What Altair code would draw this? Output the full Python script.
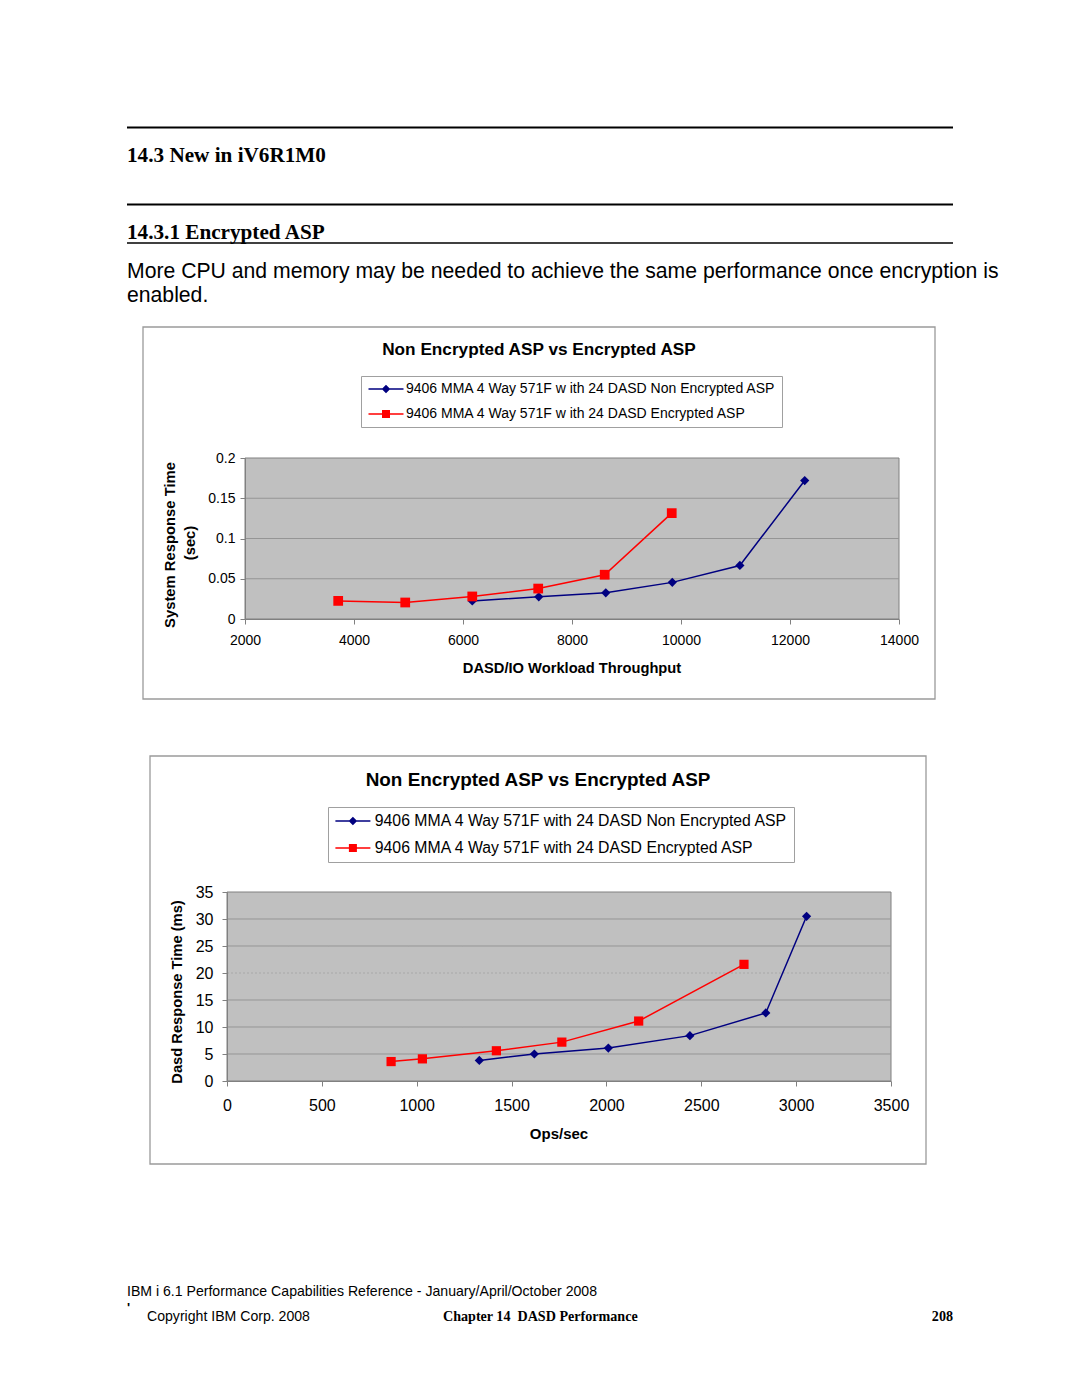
import altair as alt
import pandas as pd

# ---------------- data ----------------
# Chart 1: DASD/IO workload throughput vs system response time (sec)
ne1_x = [6170, 7390, 8620, 9840, 11080, 12270]
ne1_y = [0.0225, 0.0275, 0.0325, 0.0455, 0.0665, 0.172]
e1_x = [3710, 4940, 6170, 7380, 8600, 9830]
e1_y = [0.0225, 0.0205, 0.028, 0.0378, 0.055, 0.1315]

# Chart 2: Ops/sec vs DASD response time (ms)
ne2_x = [1330, 1620, 2010, 2440, 2840, 3055]
ne2_y = [3.8, 5.0, 6.1, 8.4, 12.6, 30.5]
e2_x = [865, 1030, 1420, 1765, 2170, 2725]
e2_y = [3.6, 4.1, 5.6, 7.2, 11.1, 21.6]

names1 = ["9406 MMA 4 Way 571F w ith 24 DASD Non Encrypted ASP",
          "9406 MMA 4 Way 571F w ith 24 DASD Encrypted ASP"]
names2 = ["9406 MMA 4 Way 571F with 24 DASD Non Encrypted ASP",
          "9406 MMA 4 Way 571F with 24 DASD Encrypted ASP"]

x1_ticks = [2000, 4000, 6000, 8000, 10000, 12000, 14000]
y1_ticks = [0, 0.05, 0.1, 0.15, 0.2]
x2_ticks = [0, 500, 1000, 1500, 2000, 2500, 3000, 3500]
y2_ticks = [0, 5, 10, 15, 20, 25, 30, 35]

title1 = "Non Encrypted ASP vs Encrypted ASP"
title2 = "Non Encrypted ASP vs Encrypted ASP"
xtitle1 = "DASD/IO Workload Throughput"
ytitle1 = ["System Response Time", "(sec)"]
xtitle2 = "Ops/sec"
ytitle2 = "Dasd Response Time (ms)"

# ---------------- styling ----------------
W, H = 1064, 1381
NAVY = "#000080"
RED = "#FF0000"
SANS = "Liberation Sans"
SERIF = "Liberation Serif"
GRAY = "#808080"
GRID = "#959595"
PLOT_BG = "#C0C0C0"

DIA = "M-3.5,-0.15H3.5V0.15H-3.5ZM0,-0.85L0.85,0L0,0.85L-0.85,0Z"
SQ = "M-3.5,-0.15H3.5V0.15H-3.5ZM-0.8,-0.8H0.8V0.8H-0.8Z"

one = pd.DataFrame({"k": [0]})


def P(v):
    return v - 8


def txt(t, x, y, size, weight="normal", font=SANS, align="left",
        baseline="alphabetic", angle=0):
    kw = dict(text=t, font=font, fontSize=size, fontWeight=weight,
              align=align, baseline=baseline, color="black")
    if angle:
        kw["angle"] = angle
    return alt.Chart(one).mark_text(**kw).encode(
        x=alt.value(P(x)), y=alt.value(P(y)))


def hrule(x1, x2, y, w):
    return alt.Chart(one).mark_rule(color="black", strokeWidth=w).encode(
        x=alt.value(P(x1)), x2=alt.value(P(x2)), y=alt.value(P(y)))


def frame(x1, y1, x2, y2):
    return alt.Chart(one).mark_rect(fill="white", stroke="#9a9a9a",
                                    strokeWidth=1.3).encode(
        x=alt.value(P(x1)), x2=alt.value(P(x2)),
        y=alt.value(P(y1)), y2=alt.value(P(y2)))


def build(ne_x, ne_y, e_x, e_y, names, xdom, ydom, xpix, ypix,
          xticks, yticks, xfmt, yfmt, lab_size, xpad, ypad,
          leg_xy, leg_size, leg_lab_off, leg_sym_off, leg_row_pad,
          dia_size, sq_size, dotted_grid=None):
    xr = [P(xpix[0]), P(xpix[1])]
    yr = [P(ypix[0]), P(ypix[1])]
    sx = alt.Scale(domain=xdom, range=xr, nice=False, zero=False)
    sy = alt.Scale(domain=ydom, range=yr, nice=False, zero=False)
    ax = alt.Axis(orient="bottom", offset=yr[0] - H, values=xticks,
                  format=xfmt, title=None, grid=False, labelFont=SANS,
                  labelFontSize=lab_size, labelColor="black",
                  labelPadding=xpad, tickSize=5, tickColor=GRAY,
                  domainColor=GRAY, labelFlush=False, labelOverlap=False,
                  zindex=2)
    ay = alt.Axis(orient="left", offset=-xr[0], values=yticks,
                  format=yfmt, title=None, grid=False, labelFont=SANS,
                  labelFontSize=lab_size, labelColor="black",
                  labelPadding=ypad, tickSize=5, tickColor=GRAY,
                  domainColor=GRAY, labelFlush=False, labelOverlap=False,
                  zindex=2)

    df_ne = pd.DataFrame({"x": ne_x, "y": ne_y, "s": names[0]})
    df_e = pd.DataFrame({"x": e_x, "y": e_y, "s": names[1]})
    df_all = pd.concat([df_ne, df_e], ignore_index=True)

    X = alt.X("x:Q", scale=sx, axis=ax)
    Y = alt.Y("y:Q", scale=sy, axis=ay)

    bg = alt.Chart(one).mark_rect(fill=PLOT_BG, stroke=GRAY,
                                  strokeWidth=1).encode(
        x=alt.XDatum(xdom[0], type="quantitative", scale=sx, axis=ax),
        x2=alt.X2Datum(xdom[1]),
        y=alt.YDatum(ydom[0], type="quantitative", scale=sy, axis=ay),
        y2=alt.Y2Datum(ydom[1]))

    genc = dict(
        y=alt.Y("g:Q", scale=sy, axis=ay),
        x=alt.XDatum(xdom[0], type="quantitative", scale=sx, axis=ax),
        x2=alt.X2Datum(xdom[1]))
    if dotted_grid is not None:
        cond = "datum.g == %s" % dotted_grid
        genc["strokeDash"] = alt.condition(cond, alt.value([2, 2]), alt.value([1, 0]))
        genc["color"] = alt.condition(cond, alt.value("#a8a8a8"), alt.value(GRID))
        grid = alt.Chart(pd.DataFrame({"g": yticks[1:-1]})).mark_rule(
            strokeWidth=1).encode(**genc)
    else:
        grid = alt.Chart(pd.DataFrame({"g": yticks[1:-1]})).mark_rule(
            color=GRID, strokeWidth=1).encode(**genc)

    line_ne = alt.Chart(df_ne).mark_line(color=NAVY, strokeWidth=1.5).encode(x=X, y=Y)
    line_e = alt.Chart(df_e).mark_line(color=RED, strokeWidth=1.5).encode(x=X, y=Y)
    pt_ne = alt.Chart(df_ne).mark_point(shape="diamond", filled=True,
                                        color=NAVY, size=dia_size,
                                        opacity=1).encode(x=X, y=Y)
    pt_e = alt.Chart(df_e).mark_point(shape="square", filled=True,
                                      color=RED, size=sq_size,
                                      opacity=1).encode(x=X, y=Y)

    leg = alt.Legend(orient="none", legendX=P(leg_xy[0]), legendY=P(leg_xy[1]),
                     title=None, strokeColor="#a0a0a0", fillColor="white",
                     padding=6, labelFont=SANS, labelFontSize=leg_size,
                     labelColor="black", labelLimit=1000,
                     labelOffset=leg_lab_off, symbolOffset=leg_sym_off,
                     symbolSize=100, symbolStrokeWidth=0, symbolOpacity=1,
                     rowPadding=leg_row_pad, direction="vertical", zindex=3)
    # legend-only layer: its rows are filtered away, the legend comes from the
    # explicit scale domains
    legend_layer = alt.Chart(df_all).transform_filter(
        "datum.x < -1e9").mark_point(filled=True, opacity=1).encode(
        x=X, y=Y,
        color=alt.Color("s:N", scale=alt.Scale(domain=names, range=[NAVY, RED]),
                        legend=leg),
        shape=alt.Shape("s:N", scale=alt.Scale(domain=names, range=[DIA, SQ]),
                        legend=leg))

    return alt.layer(bg, grid, line_ne, line_e, pt_ne, pt_e, legend_layer)


chart1 = build(ne1_x, ne1_y, e1_x, e1_y, names1, [2000, 14000], [0, 0.2],
               (245, 899), (619, 458), x1_ticks, y1_ticks, "d", "~g",
               14, 9, 5, (361, 376), 14, 13, 12, 11, 85, 95)
chart2 = build(ne2_x, ne2_y, e2_x, e2_y, names2, [0, 3500], [0, 35],
               (227, 891), (1081, 892), x2_ticks, y2_ticks, "d", "d",
               16, 11, 9, (328, 807), 15.8, 14, 11, 10, 85, 85,
               dotted_grid=20)

decor = [
    hrule(127, 953, 127.5, 2),
    txt("14.3 New in iV6R1M0", 127, 162, 21.2, "bold", SERIF),
    hrule(127, 953, 204.5, 2),
    txt("14.3.1 Encrypted ASP", 127, 239, 21.2, "bold", SERIF),
    hrule(127, 953, 243, 1.5),
    txt("More CPU and memory may be needed to achieve the same performance once encryption is",
        127, 278, 21.2),
    txt("enabled.", 127, 302, 21.2),
    frame(143, 327, 935, 699),
    frame(150, 756, 926, 1164),
    txt(title1, 539, 355, 17.2, "bold", align="center"),
    txt(xtitle1, 572, 673, 14.7, "bold", align="center"),
    txt(ytitle1[0], 171, 545, 14.8, "bold", align="center", baseline="middle", angle=270),
    txt(ytitle1[1], 191, 543, 14.8, "bold", align="center", baseline="middle", angle=270),
    txt(title2, 538, 786, 18.9, "bold", align="center"),
    txt(xtitle2, 559, 1139, 15, "bold", align="center"),
    txt(ytitle2, 178, 992, 14.7, "bold", align="center", baseline="middle", angle=270),
    txt("IBM i 6.1 Performance Capabilities Reference - January/April/October 2008",
        127, 1296, 14.1),
    txt("'", 127, 1312, 13, "bold"),
    txt("Copyright IBM Corp. 2008", 147, 1321, 14.1),
    txt("Chapter 14\u00a0 DASD Performance", 443, 1321, 14.1, "bold", SERIF),
    txt("208", 953, 1321, 14.1, "bold", SERIF, align="right"),
]

chart = alt.layer(*decor, chart1, chart2).resolve_scale(
    x="independent", y="independent", color="independent", shape="independent"
).properties(
    width=W, height=H, padding=0,
    autosize=alt.AutoSizeParams(type="none")
).configure_view(stroke=None)

chart.save("out.html", embed_options={"renderer": "svg", "actions": False})
